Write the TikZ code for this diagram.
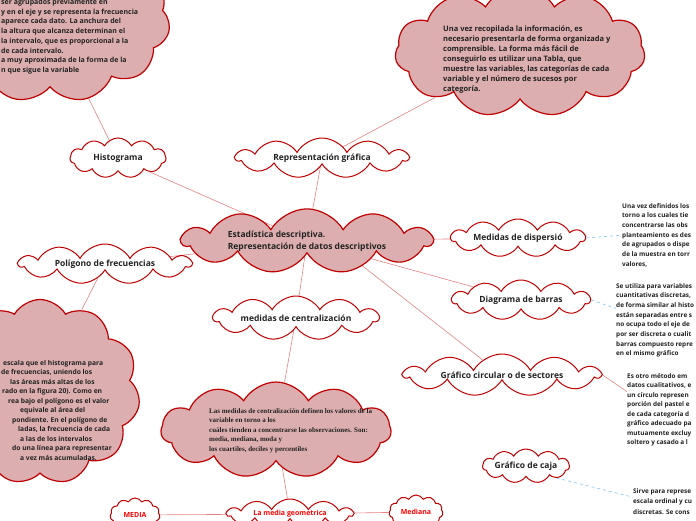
\documentclass[tikz,border=0pt]{standalone}
\usepackage{fontspec}
\setmainfont{Open Sans}
\newfontfamily\timesfont{Liberation Serif}
\usetikzlibrary{shapes.symbols,positioning,backgrounds}
\definecolor{cloudred}{RGB}{192,0,0}
\definecolor{cloudpink}{RGB}{220,174,176}
\definecolor{linkred}{RGB}{228,130,130}
\definecolor{linkblue}{RGB}{140,205,240}
\definecolor{textgray}{RGB}{34,34,34}
\tikzstyle{nube}=[cloud, cloud puffs=11, cloud puff arc=120, cloud ignores aspect,
        draw=cloudred, line width=1pt, fill=white, text=textgray,
        font=\fontsize{8.5}{12}\selectfont\bfseries, inner sep=0pt]
\tikzstyle{nubellena}=[nube, fill=cloudpink, line width=1.2pt]
\tikzstyle{hoja}=[nube, text=red, font=\fontsize{7}{9}\selectfont\bfseries]
\tikzstyle{nota}=[align=left, anchor=north west, inner sep=0pt, text=textgray,
        font=\fontsize{7}{9.7}\selectfont\bfseries]
\tikzstyle{enlace}=[draw=linkred, line width=0.6pt]
\tikzstyle{guion}=[draw=linkblue, dashed, line width=0.7pt]

\begin{document}
\begin{tikzpicture}[x=1pt, y=-1pt]
        \useasboundingbox (0,0) rectangle (696,520);

        % big clouds with notes
        \node[nubellena, minimum width=240, minimum height=165] (tl) at (50,20) {};
        \node[nubellena, minimum width=250, minimum height=130] (tr) at (520,52) {};
        \node[nubellena, minimum width=200, minimum height=185] (bl) at (40,392) {};
        \node[nubellena, minimum width=230, minimum height=96] (cb) at (276,430) {};

        \node[nota] (tlText) at (1,-1) {ser agrupados previamente en\\
            y en el eje y se representa la frecuencia\\
            aparece cada dato. La anchura del\\
            la altura que alcanza determinan el\\
            la intervalo, que es proporcional a la\\
            de cada intervalo.\\
            a muy aproximada de la forma de la\\
            n que sigue la variable};
        \node[nota, font=\fontsize{7.5}{10}\selectfont\bfseries] (trText) at (443,26)
            {Una vez recopilada la información, es\\
            necesario presentarla de forma organizada y\\
            comprensible. La forma más fácil de\\
            conseguirlo es utilizar una Tabla, que\\
            muestre las variables, las categorías de cada\\
            variable y el número de sucesos por\\
            categoría.};
        \node[nota, font=\fontsize{6.7}{9.5}\selectfont\bfseries] (blText) at (1,360)
            {\hspace*{2pt}escala que el histograma para\\
            de frecuencias, uniendo los\\
            \hspace*{9pt}las áreas más altas de los\\
            \hspace*{1pt}rado en la figura 20). Como en\\
            \hspace*{7pt}rea bajo el polígono es el valor\\
            \hspace*{19pt}equivale al área del\\
            \hspace*{11pt}pondiente. En el polígono de\\
            \hspace*{17pt}ladas, la frecuencia de cada\\
            \hspace*{19pt}a las de los intervalos\\
            \hspace*{11pt}do una línea para representar\\
            \hspace*{19pt}a vez más acumuladas.};
        \node[nota, font=\timesfont\fontsize{7}{9.5}\selectfont\bfseries] (cbText) at (209,408)
            {Las medidas de centralización definen los valores de la\\
            variable en torno a los\\
            cuáles tienden a concentrarse las observaciones. Son:\\
            media, mediana, moda y\\
            los cuartiles, deciles y percentiles};

        % main topics
        \node[nubellena, minimum width=250, minimum height=62, align=left] (centro) at (307,241)
            {Estadística descriptiva.\\Representación de datos descriptivos};
        \node[nube, minimum width=96, minimum height=40] (hist) at (118,158) {Histograma};
        \node[nube, minimum width=172, minimum height=40] (rep) at (322,158) {Representación gráfica};
        \node[nube, minimum width=172, minimum height=40] (pol) at (105,264) {Polígono de frecuencias};
        \node[nube, minimum width=165, minimum height=44] (cent) at (296,318) {medidas de centralización};
        \node[nube, minimum width=134, minimum height=38] (disp) at (518,238) {Medidas de dispersió};
        \node[nube, minimum width=138, minimum height=40] (barras) at (521,300) {Diagrama de barras};
        \node[nube, minimum width=196, minimum height=42] (circ) at (502,375) {Gráfico circular o de sectores};
        \node[nube, minimum width=86, minimum height=34] (caja) at (526,466) {Gráfico de caja};

        % bottom row
        \node[hoja, minimum width=50, minimum height=34] (media) at (135,515) {MEDIA};
        \node[hoja, minimum width=126, minimum height=30] (geo) at (290,514) {La media geometrica};
        \node[hoja, minimum width=54, minimum height=34] (mediana) at (416,512) {Mediana};

        % side notes
        \node[nota, font=\fontsize{6.4}{9.7}\selectfont\bfseries] (dispText) at (622,203)
            {Una vez definidos los\\torno a los cuales tie\\concentrarse las obs\\
            planteamiento es des\\de agrupados o dispe\\de la muestra en torr\\valores,};
        \node[nota, font=\fontsize{6.4}{9.7}\selectfont\bfseries] (barrasText) at (616,283)
            {Se utiliza para variables\\cuantitativas discretas,\\de forma similar al histo\\
            están separadas entre s\\no ocupa todo el eje de\\por ser discreta o cualit\\
            barras compuesto repre\\en el mismo gráfico};
        \node[nota, font=\fontsize{6.4}{9.5}\selectfont\bfseries] (circText) at (627,373)
            {Es otro método em\\datos cualitativos, e\\un círculo represen\\
            porción del pastel e\\de cada categoría d\\gráfico adecuado pa\\
            mutuamente excluy\\soltero y casado a l};
        \node[nota, font=\fontsize{6.4}{10.5}\selectfont\bfseries] (cajaText) at (633,488)
            {Sirve para represe\\escala ordinal y cu\\discretas. Se cons};

        % links
        \begin{pgfonlayer}{background}
        \draw[enlace] (hist) -- (tl);
        \draw[enlace] (rep) -- (tr);
        \draw[enlace] (pol) -- (bl);
        \draw[enlace] (centro) -- (hist);
        \draw[enlace] (centro) -- (rep);
        \draw[enlace] (centro) -- (pol);
        \draw[enlace] (centro) -- (cent);
        \draw[enlace] (centro) -- (disp);
        \draw[enlace] (centro) -- (barras);
        \draw[enlace] ([xshift=40pt]centro.south) -- (circ);
        \draw[enlace] (cent) -- (cb);
        \draw[enlace] (cb) -- (geo);
        \draw[enlace] (media) -- (geo);
        \draw[enlace] (geo) -- (mediana);
        \draw[enlace] (circ.east) -- ([yshift=18pt]circText.west);
        \draw[guion] (disp.east) -- (dispText.west);
        \draw[guion] (barras.east) -- ([yshift=12pt]barrasText.west);
        \draw[guion] (caja.south east) -- ([yshift=4pt]cajaText.west);
        \end{pgfonlayer}
    \end{tikzpicture}
\end{document}
